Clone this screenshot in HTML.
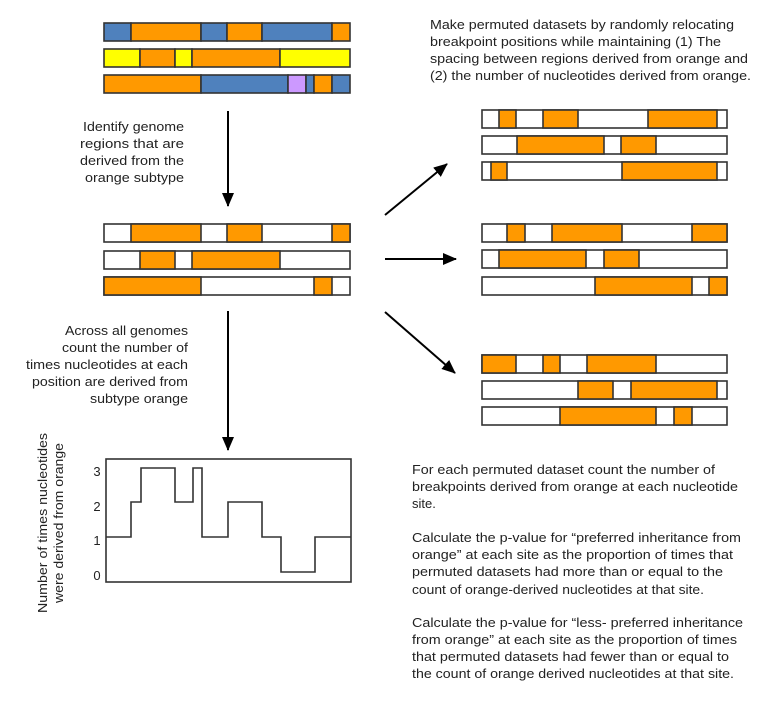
<!DOCTYPE html>
<html><head><meta charset="utf-8"><style>
html,body{margin:0;padding:0;background:#fff;}
svg{display:block;}
text{font-family:"Liberation Sans",Arial,sans-serif;font-size:13px;fill:#222;}
</style></head><body>
<svg width="764" height="705" viewBox="0 0 764 705" xmlns="http://www.w3.org/2000/svg">
<defs>
<marker id="ah" markerWidth="14" markerHeight="12" refX="13" refY="6" orient="auto" markerUnits="userSpaceOnUse">
<path d="M0,0 L14,6 L0,12 Z" fill="#000"/>
</marker>
</defs>
<g stroke="#333" stroke-width="1.6">
<rect x="104" y="23" width="27" height="18" fill="#4f81bd"/><rect x="131" y="23" width="70" height="18" fill="#ff9900"/><rect x="201" y="23" width="26" height="18" fill="#4f81bd"/><rect x="227" y="23" width="35" height="18" fill="#ff9900"/><rect x="262" y="23" width="70" height="18" fill="#4f81bd"/><rect x="332" y="23" width="18" height="18" fill="#ff9900"/>
<rect x="104" y="49" width="36" height="18" fill="#ffff00"/><rect x="140" y="49" width="35" height="18" fill="#ff9900"/><rect x="175" y="49" width="17" height="18" fill="#ffff00"/><rect x="192" y="49" width="88" height="18" fill="#ff9900"/><rect x="280" y="49" width="70" height="18" fill="#ffff00"/>
<rect x="104" y="75" width="97" height="18" fill="#ff9900"/><rect x="201" y="75" width="87" height="18" fill="#4f81bd"/><rect x="288" y="75" width="18" height="18" fill="#cc99ff"/><rect x="306" y="75" width="8" height="18" fill="#4f81bd"/><rect x="314" y="75" width="18" height="18" fill="#ff9900"/><rect x="332" y="75" width="18" height="18" fill="#4f81bd"/>
<rect x="104" y="224" width="246" height="18" fill="#fff"/><rect x="131" y="224" width="70" height="18" fill="#ff9900"/><rect x="227" y="224" width="35" height="18" fill="#ff9900"/><rect x="332" y="224" width="18" height="18" fill="#ff9900"/>
<rect x="104" y="251" width="246" height="18" fill="#fff"/><rect x="140" y="251" width="35" height="18" fill="#ff9900"/><rect x="192" y="251" width="88" height="18" fill="#ff9900"/>
<rect x="104" y="277" width="246" height="18" fill="#fff"/><rect x="104" y="277" width="97" height="18" fill="#ff9900"/><rect x="314" y="277" width="18" height="18" fill="#ff9900"/>
<rect x="482" y="110" width="245" height="18" fill="#fff"/><rect x="499" y="110" width="17" height="18" fill="#ff9900"/><rect x="543" y="110" width="35" height="18" fill="#ff9900"/><rect x="648" y="110" width="69" height="18" fill="#ff9900"/>
<rect x="482" y="136" width="245" height="18" fill="#fff"/><rect x="517" y="136" width="87" height="18" fill="#ff9900"/><rect x="621" y="136" width="35" height="18" fill="#ff9900"/>
<rect x="482" y="162" width="245" height="18" fill="#fff"/><rect x="491" y="162" width="16" height="18" fill="#ff9900"/><rect x="622" y="162" width="95" height="18" fill="#ff9900"/>
<rect x="482" y="224" width="245" height="18" fill="#fff"/><rect x="507" y="224" width="18" height="18" fill="#ff9900"/><rect x="552" y="224" width="70" height="18" fill="#ff9900"/><rect x="692" y="224" width="35" height="18" fill="#ff9900"/>
<rect x="482" y="250" width="245" height="18" fill="#fff"/><rect x="499" y="250" width="87" height="18" fill="#ff9900"/><rect x="604" y="250" width="35" height="18" fill="#ff9900"/>
<rect x="482" y="277" width="245" height="18" fill="#fff"/><rect x="595" y="277" width="97" height="18" fill="#ff9900"/><rect x="709" y="277" width="18" height="18" fill="#ff9900"/>
<rect x="482" y="355" width="245" height="18" fill="#fff"/><rect x="482" y="355" width="34" height="18" fill="#ff9900"/><rect x="543" y="355" width="17" height="18" fill="#ff9900"/><rect x="587" y="355" width="69" height="18" fill="#ff9900"/>
<rect x="482" y="381" width="245" height="18" fill="#fff"/><rect x="578" y="381" width="35" height="18" fill="#ff9900"/><rect x="631" y="381" width="86" height="18" fill="#ff9900"/>
<rect x="482" y="407" width="245" height="18" fill="#fff"/><rect x="560" y="407" width="96" height="18" fill="#ff9900"/><rect x="674" y="407" width="18" height="18" fill="#ff9900"/>
</g>
<g stroke="#000" stroke-width="2" fill="none">
<line x1="228" y1="111" x2="228" y2="206" marker-end="url(#ah)"/>
<line x1="228" y1="311" x2="228" y2="450" marker-end="url(#ah)"/>
<line x1="385" y1="215" x2="447" y2="164" marker-end="url(#ah)"/>
<line x1="385" y1="259" x2="456" y2="259" marker-end="url(#ah)"/>
<line x1="385" y1="312" x2="455" y2="373" marker-end="url(#ah)"/>
</g>
<rect x="106" y="459" width="245" height="123" fill="none" stroke="#333" stroke-width="1.6"/>
<polyline fill="none" stroke="#333" stroke-width="1.6" points="106,537 131,537 131,502 141,502 141,468 175,468 175,502 193,502 193,468 202,468 202,537 228,537 228,502 262,502 262,537 281,537 281,572 315,572 315,537 351,537"/>
<text x="97" y="476" text-anchor="middle">3</text>
<text x="97" y="511" text-anchor="middle">2</text>
<text x="97" y="545" text-anchor="middle">1</text>
<text x="97" y="580" text-anchor="middle">0</text>
<text transform="translate(47,523) rotate(-90)" text-anchor="middle" textLength="180" lengthAdjust="spacingAndGlyphs">Number of times nucleotides</text>
<text transform="translate(63,523) rotate(-90)" text-anchor="middle" textLength="160" lengthAdjust="spacingAndGlyphs">were derived from orange</text>
<g text-anchor="end">
<text x="184" y="131" textLength="101" lengthAdjust="spacingAndGlyphs">Identify genome</text>
<text x="184" y="148" textLength="104" lengthAdjust="spacingAndGlyphs">regions that are</text>
<text x="184" y="165" textLength="104" lengthAdjust="spacingAndGlyphs">derived from the</text>
<text x="184" y="182" textLength="99" lengthAdjust="spacingAndGlyphs">orange subtype</text>
<text x="188" y="335" textLength="123" lengthAdjust="spacingAndGlyphs">Across all genomes</text>
<text x="188" y="352" textLength="126" lengthAdjust="spacingAndGlyphs">count the number of</text>
<text x="188" y="369" textLength="162" lengthAdjust="spacingAndGlyphs">times nucleotides at each</text>
<text x="188" y="386" textLength="156" lengthAdjust="spacingAndGlyphs">position are derived from</text>
<text x="188" y="403" textLength="98" lengthAdjust="spacingAndGlyphs">subtype orange</text>
</g>
<text x="430" y="29" textLength="304" lengthAdjust="spacingAndGlyphs">Make permuted datasets by randomly relocating</text>
<text x="430" y="46" textLength="291" lengthAdjust="spacingAndGlyphs">breakpoint positions while maintaining (1) The</text>
<text x="430" y="63" textLength="318" lengthAdjust="spacingAndGlyphs">spacing between regions derived from orange and</text>
<text x="430" y="80" textLength="321" lengthAdjust="spacingAndGlyphs">(2) the number of nucleotides derived from orange.</text>
<text x="412" y="474" textLength="303" lengthAdjust="spacingAndGlyphs">For each permuted dataset count the number of</text>
<text x="412" y="491" textLength="326" lengthAdjust="spacingAndGlyphs">breakpoints derived from orange at each nucleotide</text>
<text x="412" y="508">site.</text>
<text x="412" y="542" textLength="329" lengthAdjust="spacingAndGlyphs">Calculate the p-value for “preferred inheritance from</text>
<text x="412" y="559" textLength="321" lengthAdjust="spacingAndGlyphs">orange” at each site as the proportion of times that</text>
<text x="412" y="576" textLength="311" lengthAdjust="spacingAndGlyphs">permuted datasets had more than or equal to the</text>
<text x="412" y="594" textLength="292" lengthAdjust="spacingAndGlyphs">count of orange-derived nucleotides at that site.</text>
<text x="412" y="627" textLength="331" lengthAdjust="spacingAndGlyphs">Calculate the p-value for “less- preferred inheritance</text>
<text x="412" y="644" textLength="325" lengthAdjust="spacingAndGlyphs">from orange” at each site as the proportion of times</text>
<text x="412" y="661" textLength="317" lengthAdjust="spacingAndGlyphs">that permuted datasets had fewer than or equal to</text>
<text x="412" y="678" textLength="322" lengthAdjust="spacingAndGlyphs">the count of orange derived nucleotides at that site.</text>
</svg>
</body></html>
